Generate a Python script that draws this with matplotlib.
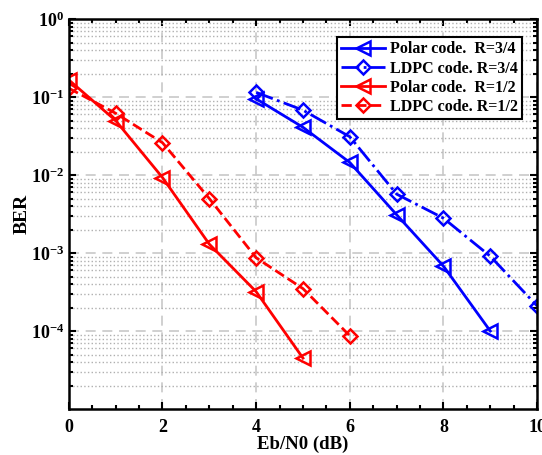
import matplotlib
matplotlib.use("Agg")
import matplotlib.pyplot as plt
from matplotlib.ticker import FixedLocator, LogLocator, MultipleLocator, NullFormatter

plt.rcParams['font.family'] = ['Liberation Serif', 'DejaVu Serif']
plt.rcParams['font.weight'] = 'bold'
plt.rcParams['mathtext.fontset'] = 'custom'
plt.rcParams['mathtext.rm'] = 'Liberation Serif:bold'
plt.rcParams['mathtext.it'] = 'Liberation Serif:bold'
plt.rcParams['mathtext.bf'] = 'Liberation Serif:bold'

# Eb/N0 (dB) and BER values
snr_polar_34 = [4, 5, 6, 7, 8, 9]
ber_polar_34 = [0.095, 0.041, 0.0145, 3.1e-3, 6.8e-4, 1.0e-4]
snr_ldpc_34 = [4, 5, 6, 7, 8, 9, 10]
ber_ldpc_34 = [0.115, 0.068, 0.031, 5.7e-3, 2.8e-3, 9.1e-4, 2.1e-4]
snr_polar_12 = [0, 1, 2, 3, 4, 5]
ber_polar_12 = [0.166, 0.05, 0.0093, 1.3e-3, 3.2e-4, 4.5e-5]
snr_ldpc_12 = [0, 1, 2, 3, 4, 5, 6]
ber_ldpc_12 = [0.13, 0.062, 0.026, 5.0e-3, 8.7e-4, 3.5e-4, 8.7e-5]

labels = ["Polar code.  R=3/4", "LDPC code. R=3/4", "Polar code.  R=1/2", "LDPC code. R=1/2"]
yticks = [1e-4, 1e-3, 1e-2, 1e-1, 1]

fig = plt.figure(figsize=(5.42, 4.55), dpi=100)
ax = fig.add_axes([0.127, 0.101, 0.864, 0.857])

ax.semilogy(snr_polar_34, ber_polar_34, '-', color='b', marker='<', mfc='none', ms=10, mew=1.8, lw=2, label=labels[0])
ax.semilogy(snr_ldpc_34, ber_ldpc_34, '-.', color='b', marker='D', mfc='none', ms=7, mew=1.8, lw=2, label=labels[1])
ax.semilogy(snr_polar_12, ber_polar_12, '-', color='r', marker='<', mfc='none', ms=10, mew=1.8, lw=2, label=labels[2])
ax.semilogy(snr_ldpc_12, ber_ldpc_12, '--', color='r', marker='D', mfc='none', ms=7, mew=1.8, lw=2, label=labels[3])

ax.set_xlim(0, 10)
ax.set_ylim(1e-5, 1)
ax.xaxis.set_major_locator(MultipleLocator(2))
ax.xaxis.set_minor_locator(MultipleLocator(0.5))
ax.yaxis.set_major_locator(FixedLocator(yticks))
ax.yaxis.set_minor_locator(LogLocator(base=10, subs=range(2, 10), numticks=20))
ax.yaxis.set_minor_formatter(NullFormatter())

ax.grid(True, which='major', axis='both', color='#c8c8c8', linestyle=(0, (6, 4)), lw=1.2)
ax.grid(True, which='minor', axis='y', color='#b0b0b0', linestyle=':', lw=1)
ax.tick_params(which='both', direction='in', top=True, right=True, labelsize=13, width=1.5)
ax.tick_params(which='major', length=5)
ax.tick_params(which='minor', length=3)
ax.tick_params(axis='x', pad=7)
for s in ax.spines.values():
    s.set_linewidth(1.8)

ax.set_xlabel("Eb/N0 (dB)", fontsize=13.5, fontweight='bold', labelpad=0)
ax.set_ylabel("BER", fontsize=14, fontweight='bold', labelpad=0)

leg = ax.legend(loc='upper right', bbox_to_anchor=(0.968, 0.953), fontsize=11.5, fancybox=False,
                edgecolor='black', framealpha=1, handlelength=2.8, borderpad=0.25,
                labelspacing=0.2, handletextpad=0.3, borderaxespad=0)
leg.get_frame().set_linewidth(1.5)

fig.savefig("out.png", dpi=100)
